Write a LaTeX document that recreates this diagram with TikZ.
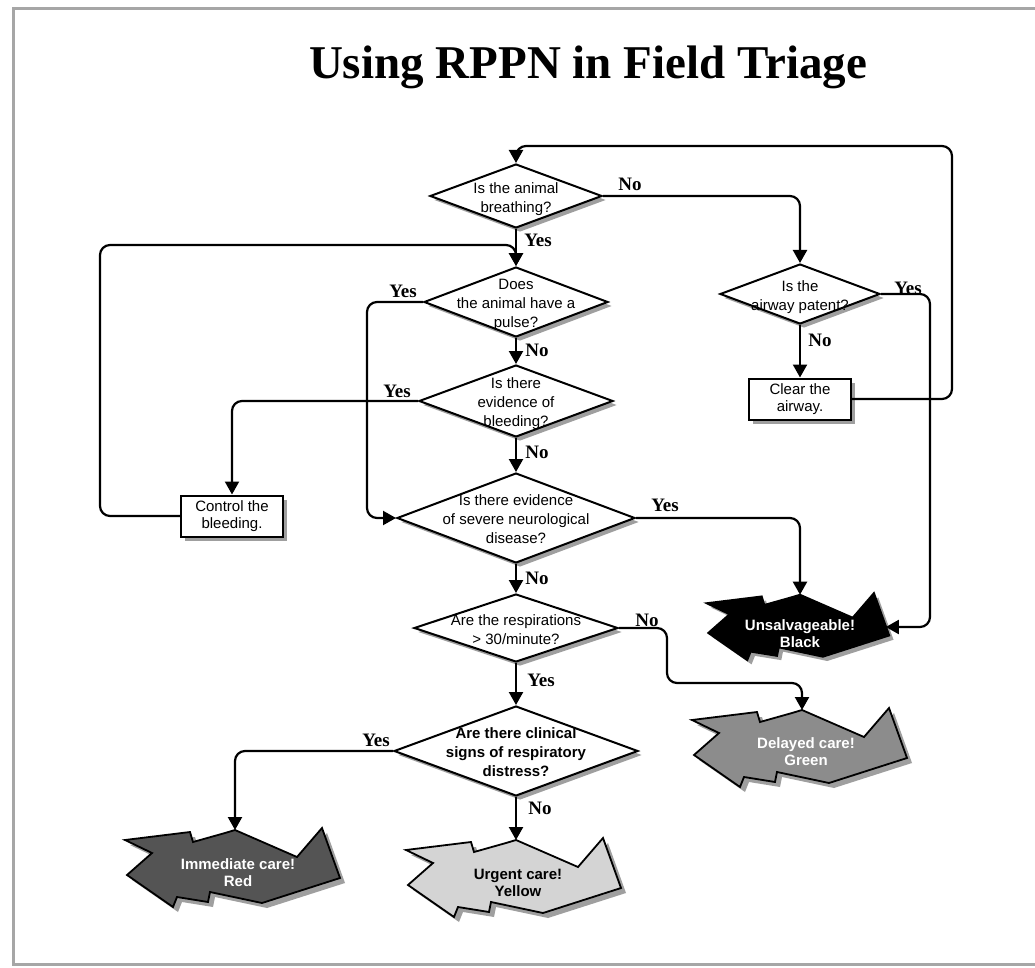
\documentclass[tikz,border=0pt]{standalone}
\usepackage{fontspec}
\setmainfont{Liberation Serif}
\setsansfont{Liberation Sans}
\usetikzlibrary{shapes.geometric,shadows,arrows.meta}

% text of a decision, kept out of the diamond's size
\newcommand{\zerobox}[1]{\makebox[0pt]{\smash{\raisebox{-0.45em}{\begin{tabular}{@{}c@{}}#1\end{tabular}}}}}
\newcommand{\burstpath}{(-110,-28) -- (-45,-36) -- (-42,-26) -- (-10,-35) -- (0,-38) -- (62,-11) -- (87,-40) -- (105,10) -- (27,35) -- (-25,24) -- (-27,34) -- (-58,29) -- (-62,39) -- (-108,7) -- (-83,-15) -- cycle}
\newcommand{\burst}[4]{% name, centre, scale, fill
  \begin{scope}[shift={#2}, scale=#3]
    \fill[gray!75, shift={(5,5)}] \burstpath;
    \draw[line width=1.8pt, fill=#4] \burstpath;
    \coordinate (#1-top) at (0,-38);
    \coordinate (#1-east) at (101,0);
  \end{scope}}

\tikzset{
  decision/.style={diamond, draw, line width=2pt, fill=white, inner sep=0pt,
    font=\sffamily\fontsize{15}{19}\selectfont,
    drop shadow={shadow xshift=4pt, shadow yshift=-4pt, fill=gray!75, opacity=1}},
  action/.style={rectangle, draw, line width=2pt, fill=white, align=center,
    minimum width=102pt, minimum height=41pt, inner sep=1pt,
    font=\sffamily\fontsize{15}{17}\selectfont,
    drop shadow={shadow xshift=4pt, shadow yshift=-4pt, fill=gray!75, opacity=1}},
  answer/.style={font=\rmfamily\bfseries\fontsize{19}{19}\selectfont, inner sep=0pt},
  burst text/.style={font=\sffamily\bfseries\fontsize{15}{17}\selectfont, align=center,
    text=white, inner sep=0pt},
  flow/.style={line width=2.2pt, rounded corners=10pt, -{Triangle[width=14pt,length=13pt]}}
}

\begin{document}
\begin{tikzpicture}[x=1pt, y=-1pt]
  \useasboundingbox (0,0) rectangle (1035,968);
  \draw[gray!70, line width=3pt] (1035,9) -- (13,9) -- (13,964) -- (1035,964);
  \node[font=\rmfamily\bfseries\fontsize{47}{50}\selectfont] (title) at (588,67) {Using RPPN in Field Triage};

  % questions
  \node[decision, minimum width=172pt, minimum height=64pt] (breathing) at (516,196) {\zerobox{Is the animal\\breathing?}};
  \node[decision, minimum width=184pt, minimum height=70pt] (pulse) at (516,302) {\zerobox{Does\\the animal have a\\pulse?}};
  \node[decision, minimum width=194pt, minimum height=72pt] (bleeding) at (516,401) {\zerobox{Is there\\evidence of\\bleeding?}};
  \node[decision, minimum width=238pt, minimum height=90pt] (neuro) at (516,518) {\zerobox{Is there evidence\\of severe neurological\\disease?}};
  \node[decision, minimum width=204pt, minimum height=68pt] (resp) at (516,628) {\zerobox{Are the respirations\\> 30/minute?}};
  \node[decision, minimum width=244pt, minimum height=90pt, font=\sffamily\bfseries\fontsize{15}{19}\selectfont] (distress) at (516,751) {\zerobox{Are there clinical\\signs of respiratory\\distress?}};
  \node[decision, minimum width=160pt, minimum height=60pt] (airway) at (800,294) {\zerobox{Is the\\airway patent?}};

  % actions
  \node[action] (clear) at (800,399) {Clear the\\airway.};
  \node[action] (control) at (232,516) {Control the\\bleeding.};

  % outcomes
  \burst{unsalv}{(800,627)}{0.85}{black}
  \burst{delayed}{(802,748)}{1}{black!45}
  \burst{immediate}{(235,868)}{1}{black!67}
  \burst{urgent}{(516,878)}{1}{black!17}
  \node[burst text] (unsalvtext) at (800,634) {Unsalvageable!\\Black};
  \node[burst text] (delayedtext) at (806,752) {Delayed care!\\Green};
  \node[burst text] (immediatetext) at (238,873) {Immediate care!\\Red};
  \node[burst text, text=black] (urgenttext) at (518,883) {Urgent care!\\Yellow};

  % connectors
  \draw[flow] (breathing.south) -- (pulse.north);
  \draw[flow] (breathing.east) -| (airway.north);
  \draw[flow] (airway.south) -- (clear.north);
  \draw[flow] (clear.east) -| (952,146) -- (516,146) -- (breathing.north);
  \draw[flow] (airway.east) -- (930,294) |- (unsalv-east);
  \draw[flow] (pulse.south) -- (bleeding.north);
  \draw[flow] (pulse.west) -- (367,302) |- (neuro.west);
  \draw[flow] (bleeding.south) -- (neuro.north);
  \draw[flow] (bleeding.west) -| (control.north);
  \draw[flow] (control.west) -- (100,516) |- (516,245) -- (pulse.north);
  \draw[flow] (neuro.east) -| (unsalv-top);
  \draw[flow] (neuro.south) -- (resp.north);
  \draw[flow] (resp.east) -- (667,628) -- (667,683) -| (delayed-top);
  \draw[flow] (resp.south) -- (distress.north);
  \draw[flow] (distress.west) -| (immediate-top);
  \draw[flow] (distress.south) -- (urgent-top);

  % answers
  \node[answer] (yes1) at (538,240) {Yes};
  \node[answer] (no1) at (630,184) {No};
  \node[answer] (yes2) at (403,291) {Yes};
  \node[answer] (no2) at (537,350) {No};
  \node[answer] (yes3) at (397,391) {Yes};
  \node[answer] (no3) at (537,452) {No};
  \node[answer] (yes4) at (665,505) {Yes};
  \node[answer] (no4) at (537,578) {No};
  \node[answer] (no5) at (647,620) {No};
  \node[answer] (yes5) at (541,680) {Yes};
  \node[answer] (yes6) at (376,740) {Yes};
  \node[answer] (no6) at (540,808) {No};
  \node[answer] (yes7) at (908,288) {Yes};
  \node[answer] (no7) at (820,340) {No};
\end{tikzpicture}
\end{document}
